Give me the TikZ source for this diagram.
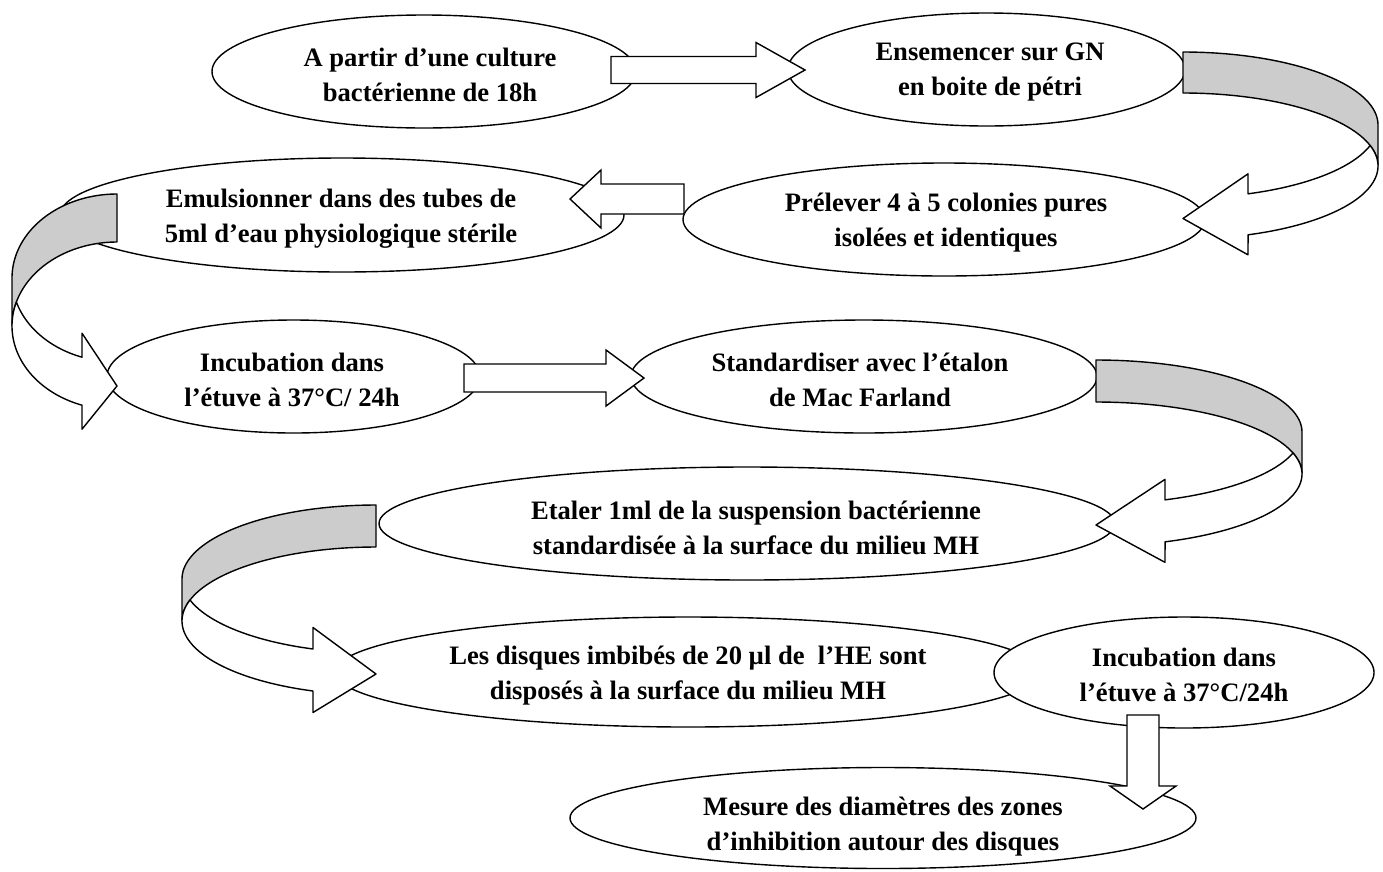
\documentclass[tikz,border=0pt]{standalone}
\usepackage{fontspec}
\setmainfont{Liberation Serif}
\usetikzlibrary{shapes.geometric}
\definecolor{bandgray}{RGB}{204,204,204}
\tikzset{
  ell/.style={draw, ellipse, line width=1.4pt, fill=white, inner sep=0pt},
  lbl/.style={font=\bfseries\fontsize{26.6}{35}\selectfont, align=center, inner sep=0pt},
  blk/.style={draw, line width=1.4pt, fill=white, line join=miter},
  band/.style={draw, line width=1.4pt, line join=round},
}
% #1 xs, #2 ys, #3 dir, #4 w, #5 th, #6 hR, #7 aw, #8 ah
\newcommand{\curvedarrow}[8]{%
  \begin{scope}[shift={(#1,#2)}, xscale=#3]
    \pgfmathsetmacro\cW{#4}
    \pgfmathsetmacro\cT{#5}
    \pgfmathsetmacro\cR{#6}
    \pgfmathsetmacro\cA{#7}
    \pgfmathsetmacro\cH{#8}
    \pgfmathsetmacro\cYthree{\cR+\cT}
    \pgfmathsetmacro\cDy{\cR*sqrt(1-(\cH/\cW)^2)}
    \pgfmathsetmacro\cYfive{\cR+\cDy}
    \pgfmathsetmacro\cYseven{\cYthree+\cDy}
    \pgfmathsetmacro\cDh{(\cA-\cT)/2}
    \pgfmathsetmacro\cYfour{\cYfive-\cDh}
    \pgfmathsetmacro\cYeight{\cYseven+\cDh}
    \pgfmathsetmacro\cYsix{2*\cR+\cT/2}
    \pgfmathsetmacro\cPa{acos(\cH/\cW)}
    \pgfmathsetmacro\cPi{asin(\cT/(2*\cR))}
    \draw[band, fill=bandgray]
      plot[domain=0:90, samples=45, variable=\q] ({\cW*sin(\q)}, {\cR-\cR*cos(\q)})
      -- plot[domain=0:90, samples=45, variable=\q] ({\cW*cos(\q)}, {\cYthree-\cR*sin(\q)})
      -- cycle;
    \draw[band, fill=white]
      plot[domain=0:1, samples=30, variable=\q] ({\cW*cos(\cPa-\q*(\cPa-\cPi))}, {\cR+\cR*sin(\cPa-\q*(\cPa-\cPi))})
      -- plot[domain=0:1, samples=20, variable=\q] ({\cW*cos(\cPi*(1-\q))}, {\cYthree-\cR*sin(\cPi*(1-\q))})
      -- plot[domain=0:1, samples=40, variable=\q] ({\cW*cos(\cPa*\q)}, {\cYthree+\cR*sin(\cPa*\q)})
      -- (\cH,\cYeight) -- (0,\cYsix) -- (\cH,\cYfour) -- cycle;
  \end{scope}}
\begin{document}
\begin{tikzpicture}[x=1pt, y=-1pt]
\useasboundingbox (0,0) rectangle (1383,871);

% ellipses
\node[ell, minimum width=424, minimum height=113] (e1)  at (424,71.5) {};
\node[ell, minimum width=397, minimum height=113] (e2)  at (986.5,69.5) {};
\node[ell, minimum width=564, minimum height=114] (e3)  at (342,215) {};
\node[ell, minimum width=522, minimum height=113] (e4)  at (944,219.5) {};
\node[ell, minimum width=373, minimum height=113] (e5)  at (293.5,376.5) {};
\node[ell, minimum width=466, minimum height=113] (e6)  at (864,376.5) {};
\node[ell, minimum width=736, minimum height=113] (e7)  at (747,523.5) {};
\node[ell, minimum width=706, minimum height=110] (e8)  at (688,672) {};
\node[ell, minimum width=380, minimum height=111] (e9)  at (1184,672.5) {};
\node[ell, minimum width=626, minimum height=101] (e10) at (883,818) {};

% texts
\node[lbl] (t1)  at (430,75)    {A partir d’une culture\\bactérienne de 18h};
\node[lbl] (t2)  at (990,72.5)  {Ensemencer sur GN\\en boite de pétri};
\node[lbl] (t3)  at (341,218.5) {Emulsionner dans des tubes de\\5ml d’eau physiologique stérile};
\node[lbl] (t4)  at (946,222.5) {Prélever 4 à 5 colonies pures\\isolées et identiques};
\node[lbl] (t5)  at (292,379.5) {Incubation dans\\l’étuve à 37°C/ 24h};
\node[lbl] (t6)  at (860,379.5) {Standardiser avec l’étalon\\de Mac Farland};
\node[lbl] (t7)  at (756,527.5) {Etaler 1ml de la suspension bactérienne\\standardisée à la surface du milieu MH};
\node[lbl] (t8)  at (688,675.5) {Les disques imbibés de 20 µl de~~l’HE sont\\disposés à la surface du milieu MH};
\node[lbl] (t9)  at (1184,675)  {Incubation dans\\l’étuve à 37°C/24h};
\node[lbl] (t10) at (883,826.5) {Mesure des diamètres des zones\\d’inhibition autour des disques};

% straight block arrows
\draw[blk] (611,56.5) -- (756,56.5) -- (756,42.5) -- (805,70) -- (756,97.5) -- (756,83.5) -- (611,83.5) -- cycle;
\draw[blk] (684,184) -- (601,184) -- (601,170) -- (570,199) -- (601,228) -- (601,214) -- (684,214) -- cycle;
\draw[blk] (464,364) -- (606,364) -- (606,350) -- (644,378) -- (606,406) -- (606,392) -- (464,392) -- cycle;
\draw[blk] (1127,715) -- (1159,715) -- (1159,786) -- (1176,786) -- (1143,809) -- (1110,786) -- (1127,786) -- cycle;

% curved arrows
\curvedarrow{1183}{52}{1}{195}{41}{73}{81}{65}
\curvedarrow{1096}{360}{1}{206}{42}{72}{83}{69}
\curvedarrow{117}{194}{-1}{105}{48}{84}{96}{35}
\curvedarrow{376}{505}{-1}{194}{42}{74}{85}{63}
\end{tikzpicture}
\end{document}
